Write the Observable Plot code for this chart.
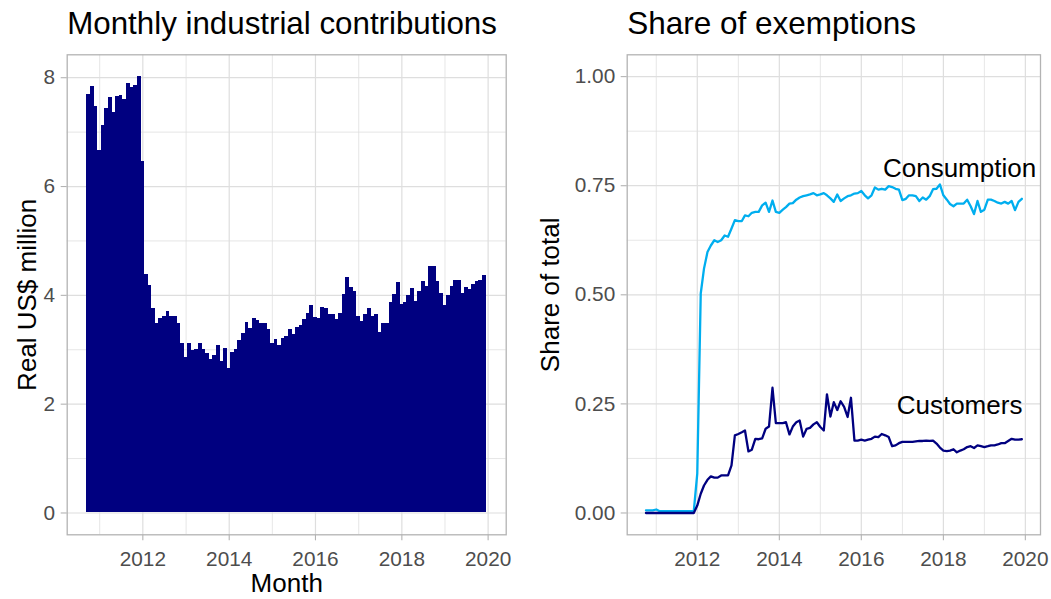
<!DOCTYPE html>
<html>
<head>
<meta charset="utf-8">
<script src="https://cdn.jsdelivr.net/npm/d3@7"></script>
<script src="https://cdn.jsdelivr.net/npm/@observablehq/plot@0.6"></script>
<style>
  html, body { margin: 0; padding: 0; background: #fff; }
  #wrap { position: relative; width: 1051px; height: 599px; overflow: hidden; background: #fff; }
  #left, #right { position: absolute; top: 0; }
  #left { left: 0; }
  #right { left: 525px; }
  svg { overflow: visible; }
</style>
</head>
<body>
<div id="wrap"><div id="left"></div><div id="right"></div></div>
<script>
// ---- data ----
const firstMonth = "2010-10-01";   // first month in the series
const lastMonth  = "2019-12-01";   // last month in the series

// Monthly industrial contributions, real US$ million (Oct 2010 – Dec 2019)
const contributions = [
  7.69, 7.84, 7.47,
  6.66, 7.12, 7.43, 7.63, 7.36, 7.66, 7.67, 7.60, 7.89, 7.82, 7.85, 8.02,
  6.46, 4.39, 4.18, 3.75, 3.49, 3.58, 3.62, 3.71, 3.62, 3.62, 3.49, 3.11,
  2.85, 3.12, 2.98, 3.01, 3.11, 3.01, 2.94, 2.83, 2.90, 3.07, 2.78, 3.03,
  2.65, 2.95, 3.01, 3.17, 3.30, 3.50, 3.39, 3.58, 3.54, 3.49, 3.49, 3.38,
  3.12, 3.19, 3.08, 3.21, 3.25, 3.38, 3.28, 3.41, 3.45, 3.56, 3.67, 3.82,
  3.60, 3.58, 3.78, 3.76, 3.65, 3.65, 3.56, 3.67, 4.02, 4.33, 4.15, 4.07,
  3.61, 3.52, 3.65, 3.76, 3.61, 3.65, 3.32, 3.49, 3.49, 3.87, 4.02, 4.24,
  3.83, 3.87, 4.00, 4.13, 3.89, 4.07, 4.26, 4.17, 4.53, 4.53, 4.26, 4.04,
  3.82, 4.00, 4.17, 4.28, 4.28, 4.04, 4.15, 4.11, 4.20, 4.26, 4.28, 4.37
];

// Share of exemptions: consumption
const consumption = [
  0.006, 0.006, 0.006,
  0.008, 0.004, 0.004, 0.004, 0.004, 0.004, 0.004, 0.004, 0.004, 0.004, 0.004, 0.004,
  0.090, 0.503, 0.560, 0.598, 0.613, 0.625, 0.621, 0.625, 0.636, 0.633, 0.652, 0.671,
  0.669, 0.669, 0.682, 0.680, 0.688, 0.690, 0.690, 0.705, 0.711, 0.690, 0.716, 0.690,
  0.688, 0.695, 0.701, 0.709, 0.710, 0.718, 0.723, 0.726, 0.728, 0.730, 0.733, 0.728,
  0.730, 0.733, 0.728, 0.721, 0.713, 0.730, 0.715, 0.721, 0.726, 0.728, 0.732, 0.733,
  0.738, 0.728, 0.721, 0.728, 0.746, 0.741, 0.743, 0.741, 0.749, 0.747, 0.743, 0.741,
  0.717, 0.720, 0.728, 0.728, 0.726, 0.715, 0.723, 0.718, 0.726, 0.742, 0.743, 0.753,
  0.728, 0.718, 0.708, 0.703, 0.709, 0.709, 0.709, 0.718, 0.703, 0.685, 0.715, 0.690,
  0.695, 0.718, 0.718, 0.715, 0.711, 0.709, 0.713, 0.709, 0.715, 0.694, 0.713, 0.720,
  0.713, 0.711, 0.711
];

// Share of exemptions: customers
const customers = [
  0.000, 0.000, 0.000,
  0.000, 0.000, 0.000, 0.000, 0.000, 0.000, 0.000, 0.000, 0.000, 0.000, 0.000, 0.000,
  0.017, 0.044, 0.063, 0.076, 0.084, 0.081, 0.081, 0.086, 0.086, 0.086, 0.109, 0.178,
  0.181, 0.185, 0.189, 0.141, 0.145, 0.170, 0.169, 0.171, 0.193, 0.198, 0.287, 0.206,
  0.206, 0.206, 0.208, 0.180, 0.198, 0.208, 0.212, 0.175, 0.193, 0.195, 0.203, 0.208,
  0.197, 0.189, 0.272, 0.221, 0.254, 0.236, 0.256, 0.243, 0.220, 0.264, 0.166, 0.166,
  0.168, 0.166, 0.168, 0.170, 0.175, 0.174, 0.181, 0.178, 0.174, 0.153, 0.155, 0.160,
  0.163, 0.163, 0.163, 0.163, 0.164, 0.165, 0.165, 0.166, 0.165, 0.166, 0.159, 0.150,
  0.143, 0.142, 0.143, 0.146, 0.139, 0.143, 0.146, 0.151, 0.153, 0.149, 0.155, 0.153,
  0.151, 0.153, 0.155, 0.155, 0.157, 0.160, 0.160, 0.165, 0.170, 0.168, 0.168, 0.169
];

const leftTitle = "Monthly industrial contributions";
const rightTitle = "Share of exemptions";
const leftYLabel = "Real US$ million";
const rightYLabel = "Share of total";
const xLabel = "Month";
const seriesLabels = [
  {name: "Consumption", date: "2018-05-25", y: 0.789},
  {name: "Customers", date: "2018-05-25", y: 0.247}
];
const yearTicks = [2012, 2014, 2016, 2018, 2020];
const yearMinor = [2011, 2013, 2015, 2017, 2019];
const leftYTicks = [0, 2, 4, 6, 8];
const leftYMinor = [1, 3, 5, 7];
const rightYTicks = [0, 0.25, 0.5, 0.75, 1];
const rightYMinor = [0.125, 0.375, 0.625, 0.875];

// ---- build tables ----
const parse = d3.utcParse("%Y-%m-%d");
const months = d3.utcMonth.range(parse(firstMonth), d3.utcMonth.offset(parse(lastMonth), 1));
const halfMonth = 16.2 * 864e5;
const bars = months.map((d, i) => ({date: d, x1: new Date(+d - halfMonth), x2: new Date(+d + halfMonth), value: contributions[i]}));
const lines = [
  ...months.map((d, i) => ({date: d, share: consumption[i], series: "Consumption"})),
  ...months.map((d, i) => ({date: d, share: customers[i], series: "Customers"}))
];
const yr = y => new Date(Date.UTC(y, 0, 1));
const majorX = yearTicks.map(yr);
const minorX = yearMinor.map(yr);

const FONT = "'Liberation Sans', Arial, Helvetica, sans-serif";
const GRID = "#DEDEDE";
const BORDER = "#B3B3B3";
const TICKTEXT = "#4D4D4D";

function commonStyle() {
  return {fontFamily: FONT, fontSize: "20.8px", background: "transparent", overflow: "visible"};
}

// ---- left panel ----
const left = Plot.plot({
  width: 525, height: 599,
  marginLeft: 66.7, marginRight: 19.3, marginTop: 54.3, marginBottom: 64.7,
  style: commonStyle(),
  x: {type: "utc", domain: [parse("2010-04-01"), parse("2020-06-02")]},
  y: {domain: [-0.401, 8.421]},
  marks: [
    Plot.ruleX(minorX, {stroke: GRID, strokeWidth: 0.75}),
    Plot.ruleY(leftYMinor, {stroke: GRID, strokeWidth: 0.75}),
    Plot.ruleX(majorX, {stroke: GRID, strokeWidth: 1.2}),
    Plot.ruleY(leftYTicks, {stroke: GRID, strokeWidth: 1.2}),
    Plot.rect(bars, {x1: "x1", x2: "x2", y1: 0, y2: "value", fill: "#000080", shapeRendering: "crispEdges"}),
    Plot.frame({stroke: BORDER, strokeWidth: 1.3}),
    Plot.axisX({ticks: majorX, tickFormat: d => String(d.getUTCFullYear()), tickSize: 6, tickPadding: 10,
      stroke: BORDER, fill: TICKTEXT, strokeWidth: 1.1, label: null}),
    Plot.axisY({ticks: leftYTicks, tickFormat: d => String(d), tickSize: 6, tickPadding: 6,
      stroke: BORDER, fill: TICKTEXT, strokeWidth: 1.1, label: null}),
    Plot.text([leftTitle], {frameAnchor: "top-left", dy: -20.8, lineAnchor: "bottom", textAnchor: "start", fontSize: 31.3, fill: "#000"}),
    Plot.text([xLabel], {frameAnchor: "bottom", dy: 57.5, lineAnchor: "bottom", textAnchor: "middle", fontSize: 26, fill: "#000"}),
    Plot.text([leftYLabel], {frameAnchor: "left", dx: -40, rotate: -90, textAnchor: "middle", lineAnchor: "middle", fontSize: 26, fill: "#000"})
  ]
});
document.getElementById("left").appendChild(left);

// ---- right panel ----
const right = Plot.plot({
  width: 526, height: 599,
  marginLeft: 101.7, marginRight: 11, marginTop: 54.3, marginBottom: 64.7,
  style: commonStyle(),
  x: {type: "utc", domain: [parse("2010-04-17"), parse("2020-05-15")]},
  y: {domain: [-0.05, 1.05]},
  color: {domain: ["Consumption", "Customers"], range: ["#00AEEF", "#000080"]},
  marks: [
    Plot.ruleX(minorX, {stroke: GRID, strokeWidth: 0.75}),
    Plot.ruleY(rightYMinor, {stroke: GRID, strokeWidth: 0.75}),
    Plot.ruleX(majorX, {stroke: GRID, strokeWidth: 1.2}),
    Plot.ruleY(rightYTicks, {stroke: GRID, strokeWidth: 1.2}),
    Plot.line(lines, {x: "date", y: "share", z: "series", stroke: "series", strokeWidth: 2.3}),
    Plot.text(seriesLabels, {x: d => parse(d.date), y: "y", text: "name", fontSize: 26, fill: "#000", lineAnchor: "middle"}),
    Plot.frame({stroke: BORDER, strokeWidth: 1.3}),
    Plot.axisX({ticks: majorX, tickFormat: d => String(d.getUTCFullYear()), tickSize: 6, tickPadding: 10,
      stroke: BORDER, fill: TICKTEXT, strokeWidth: 1.1, label: null}),
    Plot.axisY({ticks: rightYTicks, tickFormat: d3.format(".2f"), tickSize: 6, tickPadding: 6,
      stroke: BORDER, fill: TICKTEXT, strokeWidth: 1.1, label: null}),
    Plot.text([rightTitle], {frameAnchor: "top-left", dy: -20.8, lineAnchor: "bottom", textAnchor: "start", fontSize: 31.5, fill: "#000"}),
    Plot.text([rightYLabel], {frameAnchor: "left", dx: -76.2, rotate: -90, textAnchor: "middle", lineAnchor: "middle", fontSize: 26, fill: "#000"})
  ]
});
document.getElementById("right").appendChild(right);
</script>
</body>
</html>
